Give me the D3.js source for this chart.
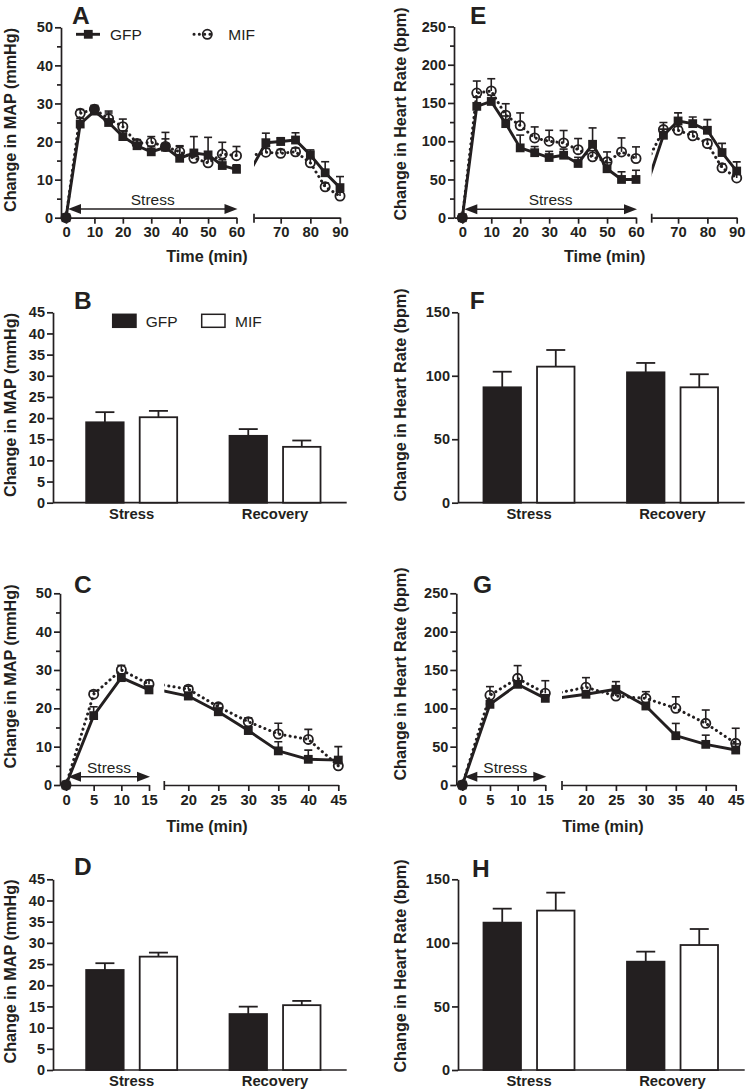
<!DOCTYPE html>
<html><head><meta charset="utf-8">
<script src="https://cdn.jsdelivr.net/npm/d3@7"></script>
<style>
body{margin:0;background:#fff}
svg text{font-family:"Liberation Sans",Arial,Helvetica,sans-serif;fill:#231f20}
</style>
</head><body>
<svg id="c" width="746" height="1092"></svg>
<script>
// ---------------- DATA ----------------
const groups = ["GFP", "MIF"];
const categories = ["Stress", "Recovery"];

// Panel A / E : 60-min stress + 30-min recovery
const timesLong = [0,5,10,15,20,25,30,35,40,45,50,55,60,65,70,75,80,85,90];
const mapLongGFP    = [0,24.6,28,25,21.3,18.9,17.3,18.5,15.6,17,16.5,13.7,12.7,19.7,20,20.4,16.5,11.8,7.9];
const mapLongGFPsem = [0,1.5,1.2,3,1.5,1.5,1.5,3.9,3.3,4.3,4.6,1.5,1.2,2.5,1,1.9,1.3,2.9,2.9];
const mapLongMIF    = [0,27.4,28.5,26,23.9,19.5,19.8,18.7,17.3,15.6,14.4,16.7,16.3,17.2,16.9,17.3,14.4,8.1,5.7];
const mapLongMIFsem = [0,1,1,1.5,2,1,1.5,2,1.4,1.5,1.5,3.1,2.4,1,1,1,1.5,1,1];

const hrLongGFP    = [0,145.6,152,123,91.3,85,78.7,81.7,70.9,96,64,50,50,107.8,126.5,123,114.3,85.2,61];
const hrLongGFPsem = [0,12,8,10,16.7,8,8,8,8,21.4,8,10,12,8,10.5,8.7,14,12,12];
const hrLongMIF    = [0,163,165.7,134,120.4,104.3,100,97.8,89,79.6,73,86,77.4,115.2,114.3,107,97,65.2,52];
const hrLongMIFsem = [0,15.7,16,15,16.6,14.4,14.3,16.2,14.5,8,13,18.3,15.2,9.2,5,5,5,5,5];

// Panel C / G : 15-min stress + 30-min recovery
const timesShort = [0,5,10,15,20,25,30,35,40,45];
const mapShortGFP    = [0,18.1,28,24.8,23.2,19.1,14.2,8.9,6.7,6.5];
const mapShortGFPsem = [0,2.3,1,1,1,1,1,2.4,2.4,3.5];
const mapShortMIF    = [0,23.7,30,26.3,25,20.4,16.5,13.3,11.9,5];
const mapShortMIFsem = [0,0.8,1.2,1,0.8,0.8,1,2.8,2.6,1];

const hrShortGFP    = [0,105.2,131.3,113,118.3,124.8,103,64.3,53,45.6];
const hrShortGFPsem = [0,3,3,3,3,10,3,16,12,8];
const hrShortMIF    = [0,117,139.1,119.6,127.4,116,113,100,80.4,54.3];
const hrShortMIFsem = [0,11.3,16.6,16.4,12.6,3,8.7,15,17.4,19.7];

// Bar panels: [Stress, Recovery]
const barB_GFP = [19.0, 15.8], barB_GFPsem = [2.4, 1.6];
const barB_MIF = [20.2, 13.2], barB_MIFsem = [1.5, 1.5];
const barF_GFP = [90.9, 102.7], barF_GFPsem = [12.3, 7.4];
const barF_MIF = [107.2, 90.9], barF_MIFsem = [13.1, 10.3];
const barD_GFP = [23.6, 13.2], barD_GFPsem = [1.6, 1.75];
const barD_MIF = [26.75, 15.3], barD_MIFsem = [0.95, 1.0];
const barH_GFP = [115.9, 85.2], barH_GFPsem = [11, 7.9];
const barH_MIF = [125.4, 98.3], barH_MIFsem = [14.1, 12.6];

// tick values
const mapMajor = [0,10,20,30,40,50], mapMinor = [5,15,25,35,45];
const hrMajor = [0,50,100,150,200,250], hrMinor = [25,75,125,175,225];
const longTicks1 = [0,10,20,30,40,50,60], longTicks2 = [70,80,90];
const shortTicks1 = [0,5,10,15], shortTicks2 = [20,25,30,35,40,45];
const mapBarTicks = [0,5,10,15,20,25,30,35,40,45];
const hrBarTicks = [0,50,100,150];

// ---------------- STYLE / LAYOUT ----------------
const INK = "#231f20";
const svg = d3.select("#c");

function styleAxis(g, fs) {
  g.attr("font-family", null).attr("font-size", null);
  g.selectAll("path,line").attr("stroke", INK).attr("stroke-width", 1.7);
  g.selectAll("text").attr("font-size", fs || 14.5).attr("font-weight", "bold").attr("fill", INK);
}

function yAxis(x, y, major, minor) {
  const g = svg.append("g").attr("transform", `translate(${x},0)`)
    .call(d3.axisLeft(y).tickValues(major).tickSize(6).tickSizeOuter(0).tickPadding(2).tickFormat(d3.format("d")));
  styleAxis(g);
  if (minor) {
    const m = svg.append("g").attr("transform", `translate(${x},0)`)
      .call(d3.axisLeft(y).tickValues(minor).tickSize(4).tickSizeOuter(0).tickFormat(""));
    m.select(".domain").remove();
    styleAxis(m);
  }
}

function yTitle(x, yc, txt) {
  svg.append("text").attr("transform", `translate(${x},${yc}) rotate(-90)`)
    .attr("text-anchor", "middle").attr("dy", "0.35em")
    .attr("font-size", 16.2).attr("font-weight", "bold").text(txt);
}
function panelLetter(x, y, txt) {
  svg.append("text").attr("x", x).attr("y", y).attr("font-size", 24.5).attr("font-weight", "bold").text(txt);
}

let clipN = 0;
function linePanel(L, times, gfp, gfpSem, mif, mifSem) {
  const y = d3.scaleLinear().domain(L.yDom).range([L.y0, L.yTop]);
  yAxis(L.axisX, y, L.major, L.minor);
  yTitle(L.titleX, L.titleY, L.title);
  panelLetter(L.letterX, L.letterY, L.letter);

  const segs = L.segs.map(s => Object.assign({}, s, { x: d3.scaleLinear().domain(s.dom).range(s.rng) }));
  segs.forEach((s, i) => {
    const g = svg.append("g").attr("transform", `translate(0,${L.y0})`)
      .call(d3.axisBottom(s.x).tickValues(s.ticks).tickSize(6).tickSizeOuter(0).tickPadding(3).tickFormat(d3.format("d")));
    styleAxis(g, 14.8);
    if (i > 0) {
      svg.append("line").attr("x1", s.rng[0]).attr("x2", s.rng[0])
        .attr("y1", L.y0 - 4).attr("y2", L.y0 + 5).attr("stroke", INK).attr("stroke-width", 1.7);
    }
  });
  svg.append("text").attr("x", L.xTitleX).attr("y", L.xTitleY).attr("text-anchor", "middle")
    .attr("font-size", 16.2).attr("font-weight", "bold").text("Time (min)");

  // stress arrow
  const s0 = segs[0];
  const ax1 = s0.x(L.stress[0]) + 2, ax2 = s0.x(L.stress[1]) + 1, ay = L.y0 - L.arrowOff;
  svg.append("line").attr("x1", ax1 + 8).attr("x2", ax2 - 8).attr("y1", ay).attr("y2", ay)
    .attr("stroke", INK).attr("stroke-width", 1.5);
  svg.append("path").attr("d", `M${ax1},${ay}L${ax1 + 13},${ay - 5}L${ax1 + 13},${ay + 5}Z`).attr("fill", INK);
  svg.append("path").attr("d", `M${ax2},${ay}L${ax2 - 13},${ay - 5}L${ax2 - 13},${ay + 5}Z`).attr("fill", INK);
  svg.append("text").attr("x", (ax1 + ax2) / 2).attr("y", ay - 4).attr("text-anchor", "middle")
    .attr("font-size", 15.5).text("Stress");

  const series = [
    { vals: mif, sem: mifSem, key: "MIF" },
    { vals: gfp, sem: gfpSem, key: "GFP" }
  ];
  segs.forEach((s, i) => {
    const idx = times.map((t, j) => j).filter(j => times[j] >= s.dom[0] && times[j] <= s.dom[1]);
    const lineIdx = i > 0 ? [idx[0] - 1].concat(idx) : idx;
    let g = svg.append("g");
    if (i > 0) {
      const id = "clip" + (clipN++);
      svg.append("clipPath").attr("id", id).append("rect")
        .attr("x", s.rng[0]).attr("y", 0).attr("width", s.rng[1] - s.rng[0] + 30).attr("height", 1092);
      g.attr("clip-path", `url(#${id})`);
    }
    series.forEach(se => {
      const ln = d3.line().x(j => s.x(times[j])).y(j => y(se.vals[j]));
      const p = g.append("path").attr("d", ln(lineIdx)).attr("fill", "none").attr("stroke", INK)
        .attr("stroke-width", 2.9).attr("stroke-linejoin", "round");
      if (se.key === "MIF") p.attr("stroke-dasharray", "0.1 5.2").attr("stroke-linecap", "round").attr("stroke-width", 3);
    });
    series.forEach(se => {
      idx.forEach(j => {
        const v = se.vals[j], e = se.sem[j], cx = s.x(times[j]);
        if (e > 0) {
          g.append("line").attr("x1", cx).attr("x2", cx).attr("y1", y(v)).attr("y2", y(v + e))
            .attr("stroke", INK).attr("stroke-width", 1.6);
          g.append("line").attr("x1", cx - 4).attr("x2", cx + 4).attr("y1", y(v + e)).attr("y2", y(v + e))
            .attr("stroke", INK).attr("stroke-width", 1.6);
        }
      });
    });
    idx.forEach(j => {
      const cx = s.x(times[j]);
      g.append("rect").attr("x", cx - 4.4).attr("y", y(gfp[j]) - 4.4).attr("width", 8.8).attr("height", 8.8).attr("fill", INK);
      g.append("circle").attr("cx", cx).attr("cy", y(mif[j])).attr("r", 4.6)
        .attr("fill", "none").attr("stroke", INK).attr("stroke-width", 1.8);
    });
  });
  return y;
}

function barPanel(L, gfp, gfpSem, mif, mifSem) {
  const y = d3.scaleLinear().domain(L.yDom).range([L.y0, L.yTop]);
  yAxis(L.axisX, y, L.ticks, null);
  yTitle(L.titleX, L.titleY, L.title);
  panelLetter(L.letterX, L.letterY, L.letter);
  svg.append("line").attr("x1", L.axisX).attr("x2", L.xEnd).attr("y1", L.y0).attr("y2", L.y0)
    .attr("stroke", INK).attr("stroke-width", 1.7);
  const xc = d3.scalePoint().domain(categories).range(L.catRange).padding(0.5);
  const xi = d3.scaleBand().domain(groups).range([-45.5, 45.5]).paddingInner(0.3);
  const data = { GFP: [gfp, gfpSem], MIF: [mif, mifSem] };
  categories.forEach((c, ci) => {
    groups.forEach(gk => {
      const v = data[gk][0][ci], e = data[gk][1][ci];
      const x0 = xc(c) + xi(gk), bw = xi.bandwidth(), cx = x0 + bw / 2;
      svg.append("line").attr("x1", cx).attr("x2", cx).attr("y1", y(v)).attr("y2", y(v + e))
        .attr("stroke", INK).attr("stroke-width", 1.8);
      svg.append("line").attr("x1", cx - 9.5).attr("x2", cx + 9.5).attr("y1", y(v + e)).attr("y2", y(v + e))
        .attr("stroke", INK).attr("stroke-width", 1.8);
      svg.append("rect").attr("x", x0).attr("y", y(v)).attr("width", bw).attr("height", y(0) - y(v))
        .attr("fill", gk === "GFP" ? INK : "#fff").attr("stroke", INK).attr("stroke-width", 1.8);
    });
    svg.append("text").attr("x", xc(c)).attr("y", L.catY).attr("text-anchor", "middle")
      .attr("font-size", 14.8).attr("font-weight", "bold").text(c);
  });
}

// ---------------- PANELS ----------------
linePanel({
  letter: "A", letterX: 72, letterY: 24,
  yDom: [0, 50], y0: 217.7, yTop: 27.3, axisX: 61, major: mapMajor, minor: mapMinor,
  title: "Change in MAP (mmHg)", titleX: 10.5, titleY: 120,
  segs: [{ dom: [-1.76, 60], rng: [61, 236.5], ticks: longTicks1 }, { dom: [61, 90], rng: [254, 340], ticks: longTicks2 }],
  xTitleX: 207, xTitleY: 262, stress: [0, 60], arrowOff: 8.7
}, timesLong, mapLongGFP, mapLongGFPsem, mapLongMIF, mapLongMIFsem);

linePanel({
  letter: "E", letterX: 470, letterY: 24,
  yDom: [0, 250], y0: 217.7, yTop: 26.5, axisX: 454, major: hrMajor, minor: hrMinor,
  title: "Change in Heart Rate (bpm)", titleX: 400, titleY: 114,
  segs: [{ dom: [-2.87, 60], rng: [454, 636], ticks: longTicks1 }, { dom: [61, 90], rng: [651.7, 736.7], ticks: longTicks2 }],
  xTitleX: 604.7, xTitleY: 262, stress: [0, 60], arrowOff: 8.5
}, timesLong, hrLongGFP, hrLongGFPsem, hrLongMIF, hrLongMIFsem);

linePanel({
  letter: "C", letterX: 74, letterY: 593.3,
  yDom: [0, 50], y0: 785, yTop: 593.3, axisX: 60, major: mapMajor, minor: mapMinor,
  title: "Change in MAP (mmHg)", titleX: 10.5, titleY: 676.5,
  segs: [{ dom: [-1.084, 15], rng: [60, 149], ticks: shortTicks1 }, { dom: [16, 45], rng: [164.3, 338.3], ticks: shortTicks2 }],
  xTitleX: 207, xTitleY: 832, stress: [0, 15], arrowOff: 8.3
}, timesShort, mapShortGFP, mapShortGFPsem, mapShortMIF, mapShortMIFsem);

linePanel({
  letter: "G", letterX: 473, letterY: 593.3,
  yDom: [0, 250], y0: 785, yTop: 593.3, axisX: 456.3, major: hrMajor, minor: hrMinor,
  title: "Change in Heart Rate (bpm)", titleX: 400, titleY: 674,
  segs: [{ dom: [-1.084, 15], rng: [456.3, 545.3], ticks: shortTicks1 }, { dom: [16, 45], rng: [562, 735.7], ticks: shortTicks2 }],
  xTitleX: 603, xTitleY: 832, stress: [0, 15], arrowOff: 8.3
}, timesShort, hrShortGFP, hrShortGFPsem, hrShortMIF, hrShortMIFsem);

// Legend for A
(function () {
  const ly = 34.3;
  svg.append("line").attr("x1", 76).attr("x2", 100).attr("y1", ly).attr("y2", ly).attr("stroke", INK).attr("stroke-width", 2.9);
  svg.append("rect").attr("x", 88.3 - 4.4).attr("y", ly - 4.4).attr("width", 8.8).attr("height", 8.8).attr("fill", INK);
  svg.append("text").attr("x", 110).attr("y", ly + 5.5).attr("font-size", 15.5).text(groups[0]);
  svg.append("line").attr("x1", 194).attr("x2", 213).attr("y1", ly).attr("y2", ly).attr("stroke", INK)
    .attr("stroke-width", 3).attr("stroke-dasharray", "0.1 5.2").attr("stroke-linecap", "round");
  svg.append("circle").attr("cx", 207.3).attr("cy", ly).attr("r", 4.6).attr("fill", "none").attr("stroke", INK).attr("stroke-width", 1.8);
  svg.append("text").attr("x", 228.3).attr("y", ly + 5.5).attr("font-size", 15.5).text(groups[1]);
})();

barPanel({
  letter: "B", letterX: 74, letterY: 309.3,
  yDom: [0, 45], y0: 502.7, yTop: 312.3, axisX: 53, xEnd: 346.7, ticks: mapBarTicks,
  title: "Change in MAP (mmHg)", titleX: 10.5, titleY: 405,
  catRange: [60, 346.7], catY: 519.3
}, barB_GFP, barB_GFPsem, barB_MIF, barB_MIFsem);

// Legend for B
(function () {
  svg.append("rect").attr("x", 112.7).attr("y", 314.3).attr("width", 23.3).attr("height", 13).attr("fill", INK).attr("stroke", INK).attr("stroke-width", 1.5);
  svg.append("text").attr("x", 145.7).attr("y", 326.5).attr("font-size", 15.5).text(groups[0]);
  svg.append("rect").attr("x", 201.7).attr("y", 314.3).attr("width", 23.3).attr("height", 13).attr("fill", "#fff").attr("stroke", INK).attr("stroke-width", 1.5);
  svg.append("text").attr("x", 235).attr("y", 326.5).attr("font-size", 15.5).text(groups[1]);
})();

barPanel({
  letter: "F", letterX: 469.7, letterY: 309.3,
  yDom: [0, 150], y0: 502.7, yTop: 312.3, axisX: 458, xEnd: 744.7, ticks: hrBarTicks,
  title: "Change in Heart Rate (bpm)", titleX: 400, titleY: 395,
  catRange: [457.25, 744.25], catY: 519.3
}, barF_GFP, barF_GFPsem, barF_MIF, barF_MIFsem);

barPanel({
  letter: "D", letterX: 74, letterY: 875,
  yDom: [0, 45], y0: 1070, yTop: 879.3, axisX: 53, xEnd: 346.7, ticks: mapBarTicks,
  title: "Change in MAP (mmHg)", titleX: 10.5, titleY: 971.5,
  catRange: [60, 346.7], catY: 1086
}, barD_GFP, barD_GFPsem, barD_MIF, barD_MIFsem);

barPanel({
  letter: "H", letterX: 472, letterY: 876.5,
  yDom: [0, 150], y0: 1070, yTop: 879.3, axisX: 458, xEnd: 744.7, ticks: hrBarTicks,
  title: "Change in Heart Rate (bpm)", titleX: 400, titleY: 966,
  catRange: [457.25, 744.25], catY: 1086
}, barH_GFP, barH_GFPsem, barH_MIF, barH_MIFsem);
</script>
</body></html>
